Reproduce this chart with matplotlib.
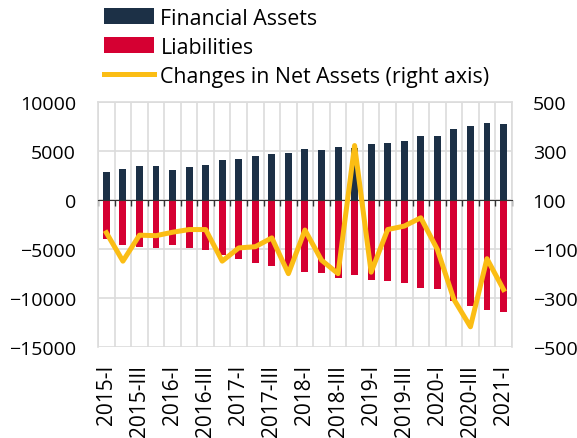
import numpy as np
import matplotlib
matplotlib.use("Agg")
import matplotlib.pyplot as plt

plt.rcParams['font.family'] = ['Open Sans', 'DejaVu Sans']

# quarterly data, 2015-I .. 2021-I
assets = [2850, 3230, 3470, 3470, 3100, 3400, 3570, 4050, 4220, 4520,
          4730, 4830, 5170, 5100, 5410, 5350, 5780, 5850, 6020, 6530,
          6530, 7280, 7550, 7890, 7790]
liabilities = [-4010, -4560, -4830, -4900, -4560, -4900, -5100, -5600, -5990, -6390,
               -6670, -7000, -7300, -7410, -7930, -7590, -8150, -8270, -8440, -8980,
               -9050, -10300, -10820, -11260, -11430]
net_change = [-33, -149, -43, -45, -31, -20, -20, -149, -95, -90,
              -54, -200, -22, -145, -200, 323, -194, -20, -6, 28,
              -101, -305, -417, -139, -265]
tick_labels = ["2015-I", "2015-III", "2016-I", "2016-III", "2017-I", "2017-III",
               "2018-I", "2018-III", "2019-I", "2019-III", "2020-I", "2020-III", "2021-I"]

NAVY = "#1c3046"
RED = "#d50032"
YELLOW = "#fbbd14"
GRID = "#dcdcdc"

n = len(assets)
x = np.arange(n)

fig = plt.figure(figsize=(5.77, 4.39), dpi=100)
ax = fig.add_axes([0.170, 0.207, 0.717, 0.558])

b1 = ax.bar(x, assets, width=0.42, color=NAVY, label="Financial Assets", zorder=2)
b2 = ax.bar(x, liabilities, width=0.42, color=RED, label="Liabilities", zorder=2)

ax.set_xlim(-0.5, n - 0.5)
ax.set_ylim(-15000, 10000)
ax.set_yticks(np.arange(-15000, 10001, 5000))
ax.tick_params(axis="y", length=0, pad=16, labelsize=14)

# boundaries between quarters -> grid + small ticks on the zero line
ax.set_xticks(np.arange(-0.5, n, 1.0))
ax.set_xticklabels([])
ax.spines["bottom"].set_position(("data", 0))
ax.spines["bottom"].set_color("#333333")
ax.spines["bottom"].set_zorder(3)
ax.tick_params(axis="x", direction="out", length=4, width=1, color="#333333")
ax.grid(True, color=GRID, linewidth=1.2, zorder=0)
ax.set_axisbelow(True)
for s in ["left", "right", "top"]:
    ax.spines[s].set_color(GRID)
    ax.spines[s].set_linewidth(1.2)

# labels at bottom of the plot
sec = ax.secondary_xaxis("bottom")
sec.set_xticks(x[::2])
sec.set_xticklabels(tick_labels, rotation=90, fontsize=15)
sec.tick_params(length=0, pad=12)
sec.spines["bottom"].set_visible(False)

ax2 = ax.twinx()
ln, = ax2.plot(x, net_change, color=YELLOW, linewidth=3.6, solid_joinstyle="round",
               label="Changes in Net Assets (right axis)", zorder=4)
ax2.set_ylim(-500, 500)
ax2.set_yticks(np.arange(-500, 501, 200))
ax2.tick_params(axis="y", length=0, pad=15, labelsize=14)
for s in ax2.spines.values():
    s.set_visible(False)

fig.legend(handles=[b1, b2, ln], loc="upper left", bbox_to_anchor=(0.165, 1.0),
           frameon=False, fontsize=15.4, handlelength=2.35, handleheight=0.75,
           handletextpad=0.3, labelspacing=0.38, borderaxespad=0)

fig.savefig("out.png", dpi=100)
